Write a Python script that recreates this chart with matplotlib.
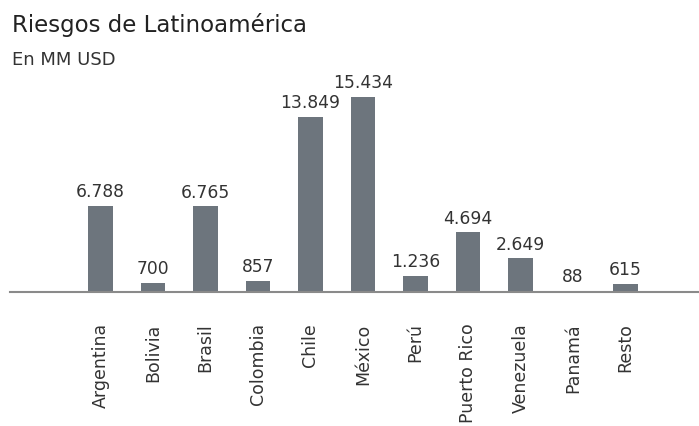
import matplotlib.pyplot as plt

plt.rcParams['font.family'] = ['DejaVu Sans']

paises = ["Argentina", "Bolivia", "Brasil", "Colombia", "Chile", "México",
          "Perú", "Puerto Rico", "Venezuela", "Panamá", "Resto"]
riesgos = [6788, 700, 6765, 857, 13849, 15434, 1236, 4694, 2649, 88, 615]
etiquetas = ["6.788", "700", "6.765", "857", "13.849", "15.434",
             "1.236", "4.694", "2.649", "88", "615"]

color_barra = "#6d757d"
color_texto = "#333333"

fig = plt.figure(figsize=(6.99, 4.27), dpi=100)
ax = fig.add_axes([0.0, 134.3 / 427, 1.0, 232.7 / 427])

x = range(len(paises))
ax.bar(x, riesgos, width=0.467, color=color_barra)

# valor encima de cada barra
for i, (v, t) in enumerate(zip(riesgos, etiquetas)):
    ax.annotate(t, (i, v), xytext=(0, 7), textcoords="offset points",
                ha="center", va="baseline", fontsize=12.3, color=color_texto)

ax.set_xlim(-1.914, 11.4)
ax.set_ylim(0, 15434 * 232.7 / 194.7)
ax.set_xticks(list(x))
ax.set_xticklabels(paises, rotation=90, fontsize=12.5, color=color_texto, va="top")
ax.tick_params(axis="x", length=0, pad=22)
ax.set_yticks([])
for s in ["top", "right", "left"]:
    ax.spines[s].set_visible(False)
ax.spines["bottom"].set_color("#8a8a8a")
ax.spines["bottom"].set_linewidth(1.5)
ax.spines["bottom"].set_bounds(-1.72, 11.4)

fig.text(12 / 699, 1 - 32 / 427, "Riesgos de Latinoamérica", fontsize=16.5,
         color="#222222", va="baseline", ha="left")
fig.text(12 / 699, 1 - 65 / 427, "En MM USD", fontsize=13,
         color="#333333", va="baseline", ha="left")

fig.savefig("out.png", dpi=100, facecolor="white")
